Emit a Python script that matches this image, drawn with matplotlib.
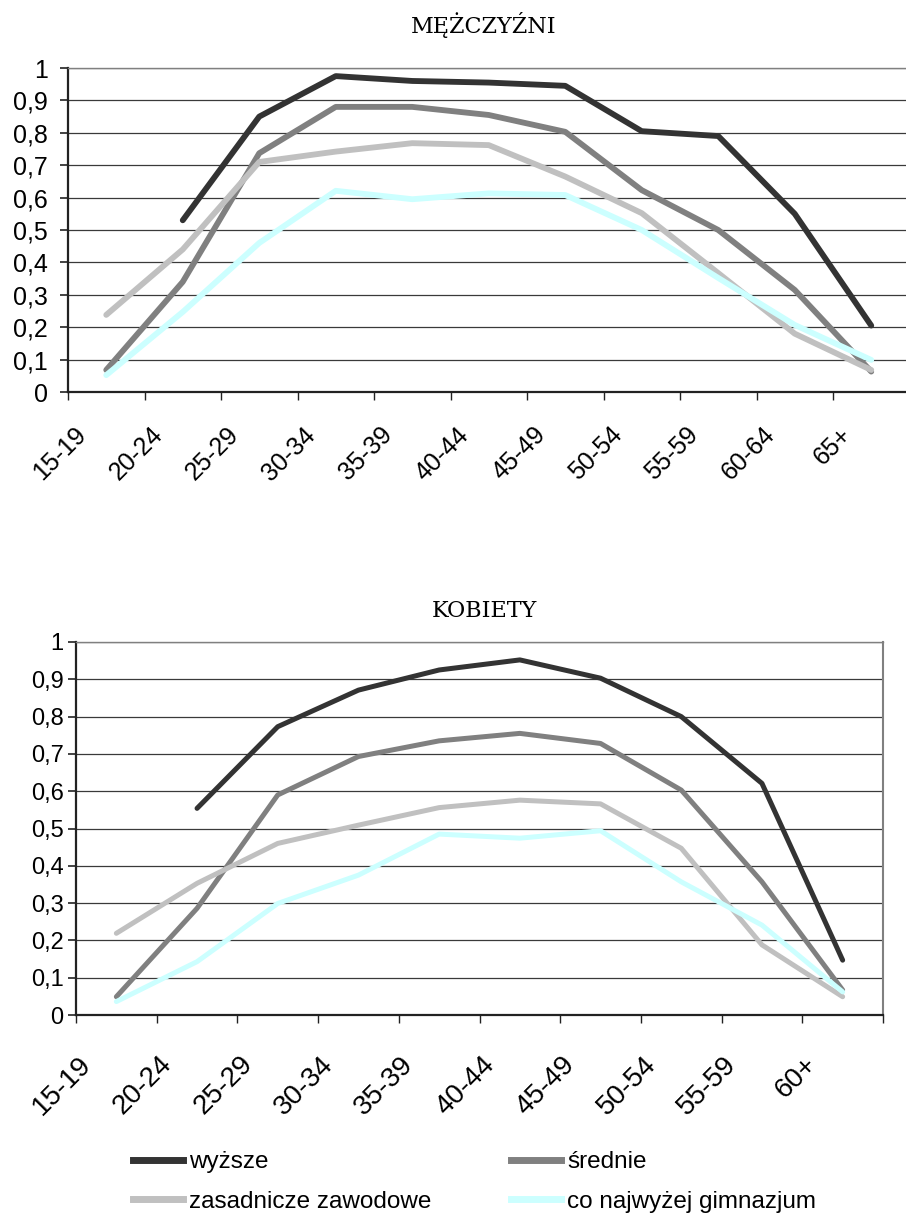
import numpy as np
import matplotlib.pyplot as plt

wiek_m = ['15-19', '20-24', '25-29', '30-34', '35-39', '40-44', '45-49',
          '50-54', '55-59', '60-64', '65+']
wiek_k = ['15-19', '20-24', '25-29', '30-34', '35-39', '40-44', '45-49',
          '50-54', '55-59', '60+']

nazwy = ['wyższe', 'średnie', 'zasadnicze zawodowe', 'co najwyżej gimnazjum']
kolory = ['#333333', '#808080', '#c0c0c0', '#ccffff']

# mezczyzni
m_wyzsze = [np.nan, 0.53, 0.85, 0.975, 0.96, 0.955, 0.945, 0.805, 0.79, 0.55, 0.205]
m_srednie = [0.068, 0.34, 0.737, 0.88, 0.88, 0.855, 0.803, 0.623, 0.50, 0.315, 0.063]
m_zasadnicze = [0.238, 0.44, 0.71, 0.742, 0.768, 0.762, 0.665, 0.552, 0.367, 0.18, 0.068]
m_gimnazjum = [0.052, 0.247, 0.46, 0.621, 0.595, 0.613, 0.608, 0.50, 0.352, 0.207, 0.099]

# kobiety
k_wyzsze = [np.nan, 0.554, 0.773, 0.871, 0.925, 0.952, 0.903, 0.80, 0.621, 0.147]
k_srednie = [0.049, 0.286, 0.59, 0.693, 0.735, 0.755, 0.728, 0.603, 0.357, 0.067]
k_zasadnicze = [0.219, 0.353, 0.46, 0.509, 0.556, 0.576, 0.566, 0.447, 0.188, 0.049]
k_gimnazjum = [0.036, 0.143, 0.299, 0.375, 0.485, 0.474, 0.494, 0.357, 0.241, 0.062]

W, H = 906, 1216


def rysuj(ax, kategorie, serie, lw, font_y, font_x, pad_y, pad_x, przes):
    n = len(kategorie)
    x = np.arange(n) + 0.5
    for dane, kolor in zip(serie, kolory):
        ax.plot(x, dane, color=kolor, lw=lw, solid_capstyle='round',
                solid_joinstyle='round')
    ax.set_xlim(0, n)
    ax.set_ylim(0, 1)

    yt = np.arange(0, 11) / 10
    ax.set_yticks(yt)
    ax.set_yticklabels(['0', '0,1', '0,2', '0,3', '0,4', '0,5', '0,6', '0,7',
                        '0,8', '0,9', '1'], fontsize=font_y,
                       family='Liberation Sans')
    ax.tick_params(axis='y', direction='out', length=5.5, width=1.2,
                   pad=pad_y, color='#222222')
    ax.grid(axis='y', color='#3a3a3a', lw=0.9)
    ax.set_axisbelow(True)

    ax.set_xticks(np.arange(n + 1), minor=True)
    ax.set_xticks(x - przes)
    ax.set_xticklabels(kategorie, rotation=45, ha='right', va='top',
                       fontsize=font_x, family='Liberation Sans')
    ax.tick_params(axis='x', which='major', length=0, pad=pad_x)
    ax.tick_params(axis='x', which='minor', direction='out', length=5.5,
                   width=1.0, color='#222222')

    ax.spines['left'].set_color('#222222')
    ax.spines['left'].set_linewidth(1.6)
    ax.spines['bottom'].set_color('#222222')
    ax.spines['bottom'].set_linewidth(1.6)
    ax.spines['top'].set_color('#808080')
    ax.spines['top'].set_linewidth(1.0)
    ax.spines['right'].set_color('#808080')
    ax.spines['right'].set_linewidth(1.5)


fig = plt.figure(figsize=(W / 100, H / 100), dpi=100)

ax1 = fig.add_axes([68 / W, 1 - 392 / H, 841.5 / W, 324 / H])
rysuj(ax1, wiek_m, [m_wyzsze, m_srednie, m_zasadnicze, m_gimnazjum],
      lw=4.2, font_y=18, font_x=18, pad_y=9, pad_x=22, przes=0.2)

ax2 = fig.add_axes([76 / W, 1 - 1015 / H, 807 / W, 373 / H])
rysuj(ax2, wiek_k, [k_wyzsze, k_srednie, k_zasadnicze, k_gimnazjum],
      lw=3.6, font_y=17, font_x=20, pad_y=3.5, pad_x=26, przes=0.25)

fig.text(484 / W, 1 - 25 / H, 'MĘŻCZYŹNI', ha='center', va='center',
         fontsize=16, family='DejaVu Serif')
fig.text(484 / W, 1 - 611 / H, 'KOBIETY', ha='center', va='center',
         fontsize=16, family='DejaVu Serif')

# legenda wierszami: wyzsze | srednie, zasadnicze | gimnazjum
linie = [plt.Line2D([], [], color=k, lw=5) for k in kolory]
kolejnosc = [0, 2, 1, 3]
fig.legend([linie[i] for i in kolejnosc], [nazwy[i] for i in kolejnosc],
           loc='upper left', ncol=2, frameon=False,
           bbox_to_anchor=(133 / W, 1 - 1151 / H), borderpad=0,
           borderaxespad=0, handlelength=2.05, handletextpad=0.25,
           columnspacing=3.3, labelspacing=0.72,
           prop={'family': 'Liberation Sans', 'size': 17.5})

fig.savefig('out.png', dpi=100)
